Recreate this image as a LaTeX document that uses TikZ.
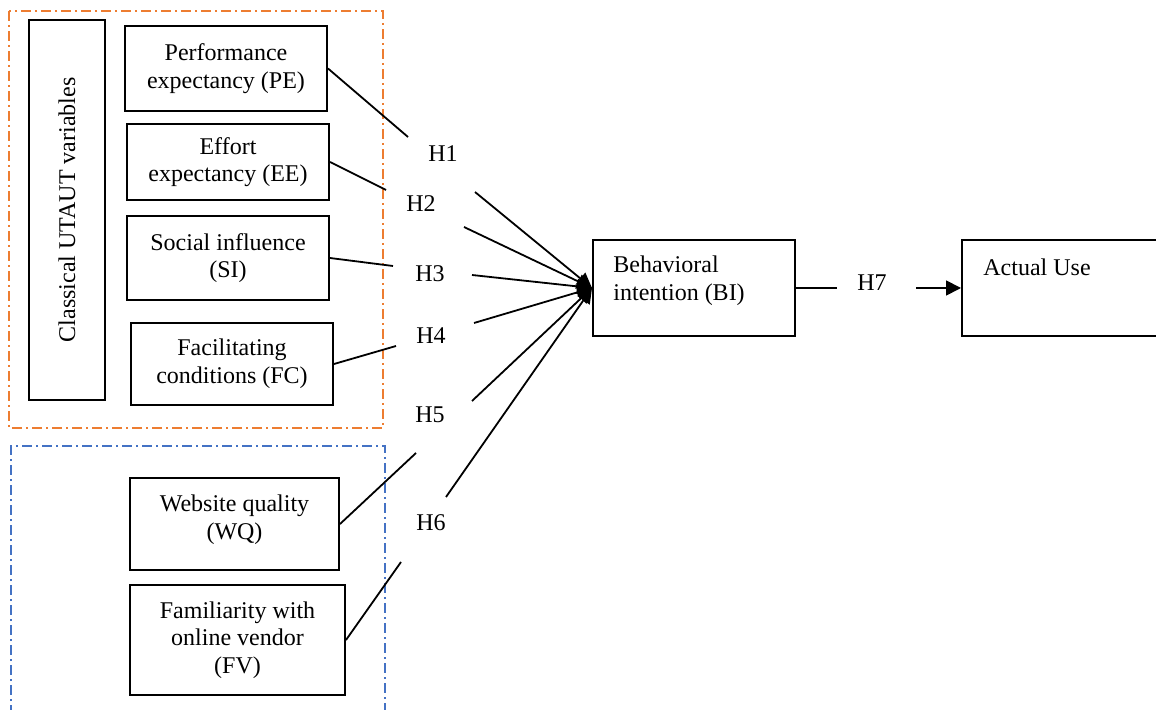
\documentclass[tikz,border=0pt]{standalone}
\usepackage{fontspec}
\setmainfont{Liberation Serif}
\usetikzlibrary{arrows.meta}
\definecolor{frameorange}{RGB}{237,125,49}
\definecolor{frameblue}{RGB}{68,114,196}
\begin{document}
\begin{tikzpicture}[x=0.5pt,y=-0.5pt,
  txt/.style={font=\fontsize{12}{13.8}\selectfont, inner sep=0pt},
  box/.style={txt, draw=black, line width=1pt, align=center},
  lbl/.style={txt},
  link/.style={line width=0.9pt},
  arr/.style={link, -{Triangle[length=7.5pt,width=7.5pt]}},
  frame/.style={line width=0.8pt, dash pattern=on 5pt off 2pt on 1pt off 2pt}]
\useasboundingbox (0,0) rectangle (1156,710);
\clip (0,0) rectangle (1156,710);

% group frames
\draw[frame, frameorange] (9,11) rectangle (383,428);
\draw[frame, frameblue] (11,715) -- (11,446) -- (385,446) -- (385,715);

% construct boxes
\node[box, minimum width=38pt, minimum height=190pt] (ut) at (67,210)
  {\rotatebox{90}{Classical UTAUT variables}};
\node[box, minimum width=101pt, minimum height=42.5pt] (pe) at (226,68.5)
  {Performance\\expectancy (PE)};
\node[box, minimum width=101pt, minimum height=38pt] (ee) at (228,162)
  {Effort\\expectancy (EE)};
\node[box, minimum width=101pt, minimum height=42pt] (si) at (228,258)
  {Social influence\\(SI)};
\node[box, minimum width=101pt, minimum height=41pt] (fc) at (232,364)
  {Facilitating\\conditions (FC)};
\node[box, minimum width=104.5pt, minimum height=46pt] (wq) at (234.5,524) {};
\node[txt, align=center] (wqtext) at (234.5,520) {Website quality\\(WQ)};
\node[box, minimum width=107.5pt, minimum height=55pt] (fv) at (237.5,640)
  {Familiarity with\\online vendor\\(FV)};
\node[box, minimum width=101pt, minimum height=48pt] (bi) at (694,288) {};
\node[txt, anchor=west, align=left] (bitext) at (613,281)
  {Behavioral\\intention (BI)};
\node[box, minimum width=104pt, minimum height=48pt] (au) at (1066,288) {};
\node[txt, anchor=west] (autext) at (983,267) {Actual Use};

% hypothesis labels
\node[lbl] (lh1) at (443,154) {H1};
\node[lbl] (lh2) at (421,204) {H2};
\node[lbl] (lh3) at (430,274) {H3};
\node[lbl] (lh4) at (431,336) {H4};
\node[lbl] (lh5) at (430,415) {H5};
\node[lbl] (lh6) at (431,523) {H6};
\node[lbl] (lh7) at (872,283) {H7};

% free ends of the broken connectors
\coordinate (a1) at (408,137);  \coordinate (b1) at (475,192);
\coordinate (a2) at (386,190);  \coordinate (b2) at (464,227);
\coordinate (a3) at (393,266);  \coordinate (b3) at (472,275);
\coordinate (a4) at (396,346);  \coordinate (b4) at (474,323);
\coordinate (a5) at (416,453);  \coordinate (b5) at (472,401);
\coordinate (a6) at (401,562);  \coordinate (b6) at (446,497);
\coordinate (a7) at (837,288);  \coordinate (b7) at (916,288);

% connectors
\draw[link] (pe.east) -- (a1);
\draw[link] (ee.east) -- (a2);
\draw[link] (si.east) -- (a3);
\draw[link] (fc.east) -- (a4);
\draw[link] (wq.east) -- (a5);
\draw[link] (fv.east) -- (a6);
\foreach \k in {1,...,6}{
  \draw[arr] (b\k) -- (bi.west);
}
\draw[link] (bi.east) -- (a7);
\draw[arr] (b7) -- (au.west);
\end{tikzpicture}
\end{document}
